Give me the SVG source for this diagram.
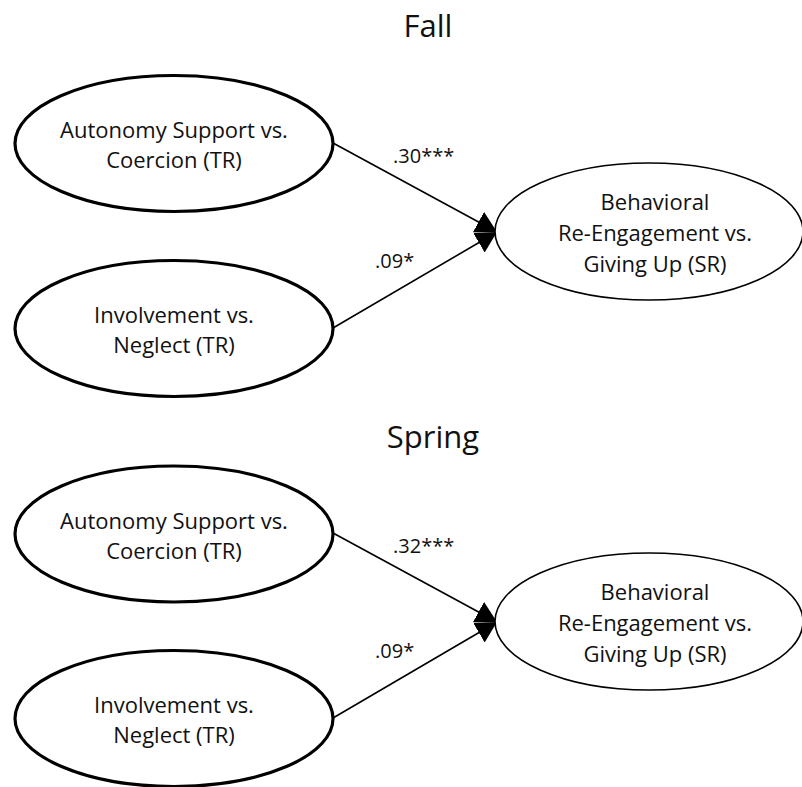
<svg xmlns="http://www.w3.org/2000/svg" width="802" height="787" viewBox="0 0 802 787">
<style>
text { font-family: "Open Sans", "Noto Sans", "DejaVu Sans", sans-serif; fill: #111; }
.title { font-size: 31px; text-anchor: middle; }
.lbl { font-size: 22px; text-anchor: middle; }
.coef { font-size: 20px; }
.pred { fill: #fff; stroke: #000; stroke-width: 3.2; }
.out { fill: #fff; stroke: #000; stroke-width: 1.6; }
.conn { stroke: #000; stroke-width: 1.6; fill: none; marker-end: url(#arr); }
</style>
<defs>
<marker id="arr" markerUnits="userSpaceOnUse" markerWidth="22" markerHeight="24" refX="21" refY="11.5" orient="auto">
<path d="M0,0 L21,11.5 L0,23 Z" fill="#000"/>
</marker>
</defs>
<rect width="802" height="787" fill="#fff"/>

<text class="title" x="428" y="37">Fall</text>
<text class="title" x="433" y="448">Spring</text>

<g id="connectors">
<line class="conn" x1="333" y1="143" x2="497" y2="232"/>
<line class="conn" x1="333" y1="328" x2="497" y2="232"/>
<line class="conn" x1="333" y1="533" x2="497" y2="622"/>
<line class="conn" x1="333" y1="718" x2="497" y2="622"/>
</g>

<g id="fall-autonomy">
<ellipse class="pred" cx="174" cy="143.5" rx="159" ry="68"/>
<text class="lbl" x="174" y="138">Autonomy Support vs.</text>
<text class="lbl" x="174" y="168">Coercion (TR)</text>
</g>
<g id="fall-involvement">
<ellipse class="pred" cx="174" cy="328.5" rx="159" ry="68"/>
<text class="lbl" x="174" y="323">Involvement vs.</text>
<text class="lbl" x="174" y="353">Neglect (TR)</text>
</g>
<g id="fall-outcome">
<ellipse class="out" cx="649" cy="231.5" rx="154" ry="68.5"/>
<text class="lbl" x="655" y="210">Behavioral</text>
<text class="lbl" x="655" y="241">Re-Engagement vs.</text>
<text class="lbl" x="655" y="272">Giving Up (SR)</text>
</g>
<text class="coef" x="393" y="163">.30***</text>
<text class="coef" x="375" y="268">.09*</text>

<g id="spring-autonomy">
<ellipse class="pred" cx="174" cy="534" rx="159" ry="68"/>
<text class="lbl" x="174" y="529">Autonomy Support vs.</text>
<text class="lbl" x="174" y="559">Coercion (TR)</text>
</g>
<g id="spring-involvement">
<ellipse class="pred" cx="174" cy="718.5" rx="159" ry="68"/>
<text class="lbl" x="174" y="713">Involvement vs.</text>
<text class="lbl" x="174" y="743">Neglect (TR)</text>
</g>
<g id="spring-outcome">
<ellipse class="out" cx="649" cy="621.5" rx="154" ry="68.5"/>
<text class="lbl" x="655" y="600">Behavioral</text>
<text class="lbl" x="655" y="631">Re-Engagement vs.</text>
<text class="lbl" x="655" y="662">Giving Up (SR)</text>
</g>
<text class="coef" x="393" y="553">.32***</text>
<text class="coef" x="375" y="658">.09*</text>
</svg>
